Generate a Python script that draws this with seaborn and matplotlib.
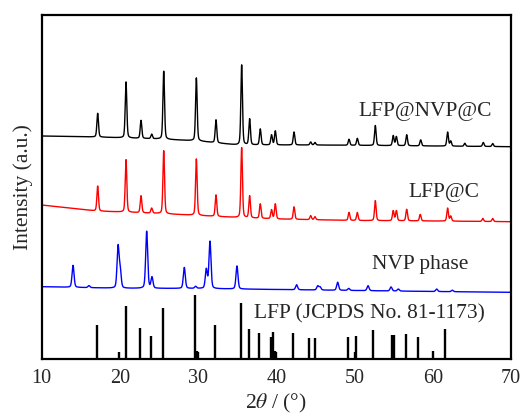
import numpy as np
import pandas as pd
import matplotlib
matplotlib.use("Agg")
import matplotlib.pyplot as plt
import seaborn as sns

# ---------------- data ----------------
# black: LFP@NVP@C  (peak position [deg], height above baseline)
nvpc_pos = [17.18, 20.80, 22.72, 24.08, 25.62, 29.79, 32.30, 35.58, 36.60, 37.96,
            39.40, 39.88, 42.27, 44.40, 44.95, 49.30, 50.36, 52.66, 54.95, 55.35,
            56.67, 58.46, 61.90, 62.30, 64.10, 66.46, 67.66]
nvpc_hgt = [23.7, 56, 18, 4.5, 68, 63, 23, 80, 26, 16,
            10, 14, 13, 3, 2.5, 6, 7, 20, 10, 9,
            11, 6, 14, 5, 3, 4, 3]
nvpc_base_x = [10, 17, 25, 30, 35, 45, 60, 70]
nvpc_base_y = [223, 222, 220, 218, 214, 214, 213, 212.3]

# red: LFP@C
lfpc_pos = [17.18, 20.80, 22.72, 24.08, 25.62, 29.79, 32.30, 35.58, 36.60, 37.96,
            39.40, 39.88, 42.27, 44.40, 44.95, 49.30, 50.36, 52.66, 54.95, 55.35,
            56.67, 58.40, 61.90, 62.30, 66.40, 67.66]
lfpc_hgt = [25, 52.5, 17, 5, 63, 56.5, 21.5, 70, 22, 14.5,
            9, 15, 12.5, 4, 3, 8, 8, 20, 10, 10,
            11.5, 6.5, 13, 5, 3, 3]
lfpc_base_x = [10, 17, 25, 30, 35, 40, 50, 60, 70]
lfpc_base_y = [154, 148, 145.5, 143.5, 141.5, 140, 138.5, 138, 137.3]

# blue: NVP phase
nvp_pos = [14.03, 16.07, 19.78, 20.05, 23.44, 24.12, 28.25, 29.70, 31.06, 31.53,
           34.98, 42.60, 45.30, 45.60, 47.85, 49.26, 51.73, 54.67, 55.60, 60.50, 62.50]
nvp_hgt = [22, 2, 41, 18, 57, 11, 21, 2, 19, 47,
           23, 5, 4, 3, 8, 2, 5, 4, 2, 2.5, 1.5]
nvp_base_x = [10, 20, 30, 40, 50, 60, 70]
nvp_base_y = [72.3, 70.7, 70.5, 69.5, 68.5, 67.5, 66.7]

# reference sticks: LFP (JCPDS No. 81-1173)
ref_pos = [17.13, 19.94, 20.80, 22.63, 23.99, 25.53, 29.68, 29.85, 30.00, 32.17,
           35.52, 36.48, 37.83, 39.29, 39.62, 39.80, 39.97, 42.20, 44.22, 44.95,
           49.21, 50.00, 50.19, 52.40, 54.83, 55.09, 56.54, 58.15, 60.07, 61.60]
ref_hgt = [34, 7, 53, 31, 23, 51, 64, 8, 7, 34,
           56, 30, 26, 22, 27, 8, 7, 26, 21, 21,
           22, 7, 23, 29, 24, 24, 25, 22, 8, 30]

labels = ["LFP@NVP@C", "LFP@C", "NVP phase", "LFP (JCPDS No. 81-1173)"]
label_x = [59.0, 61.4, 58.4, 51.9]
label_y = [248, 167, 95, 45]

# ---------------- rendering ----------------
two_theta = np.linspace(10, 70, 6001)


def pattern(pos, hgt, bx, by, fwhm):
    y = np.interp(two_theta, bx, by).astype(float)
    for p, h in zip(pos, hgt):
        g = np.exp(-4 * np.log(2) * ((two_theta - p) / fwhm) ** 2)
        lz = 1.0 / (1 + 4 * ((two_theta - p) / fwhm) ** 2)
        y += h * (0.7 * g + 0.3 * lz)
    return y


df = pd.concat([
    pd.DataFrame({"x": two_theta, "y": pattern(nvpc_pos, nvpc_hgt, nvpc_base_x, nvpc_base_y, 0.24), "s": "a"}),
    pd.DataFrame({"x": two_theta, "y": pattern(lfpc_pos, lfpc_hgt, lfpc_base_x, lfpc_base_y, 0.24), "s": "b"}),
    pd.DataFrame({"x": two_theta, "y": pattern(nvp_pos, nvp_hgt, nvp_base_x, nvp_base_y, 0.3), "s": "c"}),
])

sns.set_style("white")
plt.rcParams["font.family"] = ["Liberation Serif", "DejaVu Serif"]
plt.rcParams["mathtext.fontset"] = "stix"

fig = plt.figure(figsize=(5.26, 4.16), dpi=100)
ax = fig.add_axes([41.5 / 526, 1 - 359 / 416, (511 - 41.5) / 526, (359 - 15) / 416])

sns.lineplot(data=df, x="x", y="y", hue="s", palette={"a": "black", "b": "#ff0000", "c": "#0000ff"},
             estimator=None, sort=False, lw=1.0, legend=False, ax=ax)
ax.vlines(ref_pos, 0, ref_hgt, colors="black", lw=1.7)

for t, tx, ty in zip(labels, label_x, label_y):
    ax.text(tx, ty, t, ha="center", va="center", fontsize=15.5)

ax.set_xlim(10, 70)
ax.set_ylim(0, 344)
ax.set_xticks([10, 20, 30, 40, 50, 60, 70])
ax.set_yticks([])
ax.tick_params(axis="x", length=0, pad=7, labelsize=14.5)
ax.set_xlabel("2$\\theta$ / (°)", fontsize=15.5, labelpad=3)
ax.set_ylabel("Intensity (a.u.)", fontsize=15.5, labelpad=6)
for sp in ax.spines.values():
    sp.set_visible(True)
    sp.set_color("black")
    sp.set_linewidth(1.6)

fig.savefig("out.png", dpi=100)
